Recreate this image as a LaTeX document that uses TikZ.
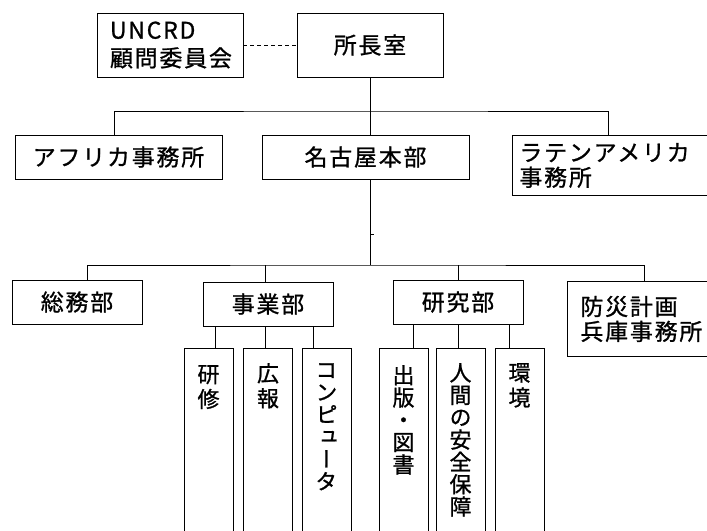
\documentclass[tikz,border=0pt]{standalone}
\usepackage{fontspec}
\newfontfamily\cjk[LetterSpace=8,FakeBold=1]{Noto Sans CJK JP}
\newfontfamily\cjkv[RawFeature=+vert,FakeBold=1]{Noto Sans CJK JP}
\begin{document}
\begin{tikzpicture}[x=1bp,y=-1bp,
  box/.style={draw, line width=0.9bp, inner sep=0pt, font=\cjk\fontsize{23}{25}\selectfont},
  vbox/.style={draw, line width=0.9bp, inner sep=0pt, minimum width=49bp, minimum height=240bp, anchor=north},
  vtext/.style={inner sep=0pt, anchor=north, align=center, font=\cjkv\fontsize{22}{22.4}\selectfont},
  vtextw/.style={vtext, font=\cjkv\fontsize{22}{25}\selectfont},
  link/.style={line width=0.9bp}]
\useasboundingbox (0,0) rectangle (707,531);
\clip (0,0) rectangle (707,531);

% top level
\node[box, minimum width=146bp, minimum height=64bp, text width=120bp, inner xsep=13bp, align=left,
      font=\cjk\fontsize{23}{28}\selectfont] (uncrd) at (170,45) {UNCRD\\顧問委員会};
\node[box, minimum width=146bp, minimum height=64bp] (shocho) at (370,45) {所長室};

% second level
\node[box, minimum width=207bp, minimum height=44bp] (africa) at (118.5,157) {アフリカ事務所};
\node[box, minimum width=207bp, minimum height=44bp] (nagoya) at (365.5,157) {名古屋本部};
\node[box, anchor=north west, minimum width=230bp, minimum height=60bp, text width=216bp,
      inner xsep=7bp, align=left] (latin) at (512,135) {ラテンアメリカ\\事務所};

% third level
\node[box, minimum width=130bp, minimum height=44bp] (somu) at (77,302) {総務部};
\node[box, minimum width=130bp, minimum height=44bp] (jigyo) at (268,304) {事業部};
\node[box, minimum width=130bp, minimum height=44bp] (kenkyu) at (458,302) {研究部};
\node[box, anchor=north west, minimum width=230bp, minimum height=75bp, text width=204bp,
      inner xsep=13bp, align=left] (bosai) at (567,281) {防災計画\\兵庫事務所};

% vertical boxes
\node[vbox] (v1) at (208.5,348) {};
\node[vbox] (v2) at (268,348) {};
\node[vbox] (v3) at (326.5,348) {};
\node[vbox] (v4) at (403.5,348) {};
\node[vbox] (v5) at (460.5,348) {};
\node[vbox] (v6) at (519.5,348) {};

\node[vtextw] (t1) at ([yshift=-17bp]v1.north) {研\\修};
\node[vtextw] (t2) at ([yshift=-15bp]v2.north) {広\\報};
\node[vtext] (t3) at ([yshift=-15bp]v3.north) {コ\\ン\\ピ\\ュ\\ー\\タ};
\node[vtext] (t4) at ([yshift=-17bp]v4.north) {出\\版\\・\\図\\書};
\node[vtext] (t5) at ([yshift=-15bp]v5.north) {人\\間\\の\\安\\全\\保\\障};
\node[vtextw] (t6) at ([yshift=-15bp]v6.north) {環\\境};

% connectors
\draw[link, dash pattern=on 4bp off 3bp] (uncrd.east) -- (shocho.west);
\coordinate (bus1) at (370,111);
\draw[link] (shocho.south) -- (nagoya.north -| shocho.south);
\draw[link] ([xshift=-4.5bp]africa.north) |- (bus1) -| ([xshift=-19bp]latin.north);

\coordinate (bus2) at (370,265);
\draw[link] (nagoya.south -| shocho.south) -- (bus2);
\draw[link] (bus2) ++(0,-31) -- ++(4,0);
\draw[link] ([xshift=10bp]somu.north) |- (bus2) -| ([xshift=-38bp]bosai.north);
\draw[link] ([xshift=-3bp]jigyo.north) -- ([xshift=-3bp]jigyo.north |- bus2);
\draw[link] (kenkyu.north) -- (kenkyu.north |- bus2);

\draw[link] ([xshift=6.5bp]v1.north) -- ([xshift=6.5bp]v1.north |- jigyo.south);
\draw[link] ([xshift=-3bp]v2.north) -- ([xshift=-3bp]v2.north |- jigyo.south);
\draw[link] ([xshift=-13.5bp]v3.north) -- ([xshift=-13.5bp]v3.north |- jigyo.south);
\draw[link] ([xshift=9.5bp]v4.north) -- ([xshift=9.5bp]v4.north |- kenkyu.south);
\draw[link] ([xshift=-2.5bp]v5.north) -- ([xshift=-2.5bp]v5.north |- kenkyu.south);
\draw[link] ([xshift=-10.5bp]v6.north) -- ([xshift=-10.5bp]v6.north |- kenkyu.south);
\end{tikzpicture}
\end{document}
